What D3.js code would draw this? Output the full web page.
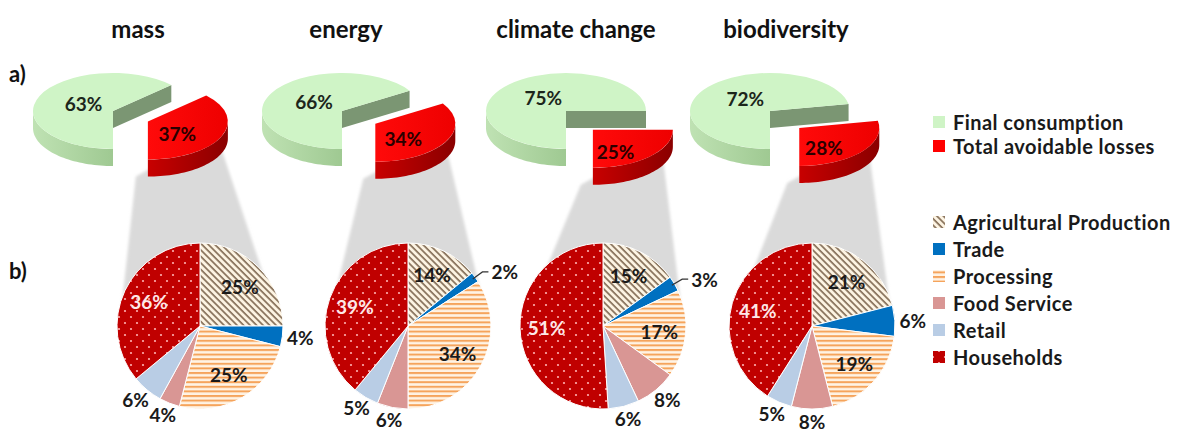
<!DOCTYPE html>
<html>
<head>
<meta charset="utf-8">
<script src="https://cdn.jsdelivr.net/npm/d3@7"></script>
<style>
  body { margin: 0; background: #fff; }
  svg { display: block; font-family: Lato, "Open Sans", sans-serif; }
</style>
</head>
<body>
<svg id="chart" width="1180" height="434"></svg>
<script>
// ---- data -------------------------------------------------------------
const indicators = ["mass", "energy", "climate change", "biodiversity"];
const panelLabels = ["a)", "b)"];

// a) share of final consumption vs. total avoidable losses (%)
const overviewSeries = ["Final consumption", "Total avoidable losses"];
const consumptionShare = [63, 66, 75, 72];
const lossShare = [37, 34, 25, 28];

// b) split of the avoidable losses along the supply chain (%)
const stages = ["Agricultural Production", "Trade", "Processing", "Food Service", "Retail", "Households"];
const massLosses = [25, 4, 25, 4, 6, 36];
const energyLosses = [14, 2, 34, 6, 5, 39];
const climateLosses = [15, 3, 17, 8, 6, 51];
const biodiversityLosses = [21, 6, 19, 8, 5, 41];
const stageLosses = [massLosses, energyLosses, climateLosses, biodiversityLosses];

// ---- layout -----------------------------------------------------------
const layout = {
  titleX: [138, 346, 576, 786], titleY: 38,
  topCx: [113, 342, 566, 770], topCy: 111,
  rx: 80, ry: 38, depth: 17, explode: 38,
  pieCx: [200, 408, 603, 812], pieCy: 326, pieR: 83,
  legendX: 933
};

const svg = d3.select("#chart");
const defs = svg.append("defs");

// fills
const agri = defs.append("pattern").attr("id", "pat-agri")
  .attr("patternUnits", "userSpaceOnUse").attr("width", 4.6).attr("height", 4.6)
  .attr("patternTransform", "rotate(45)");
agri.append("rect").attr("width", 4.6).attr("height", 4.6).attr("fill", "#fdf4e3");
agri.append("rect").attr("width", 4.6).attr("height", 1.7).attr("fill", "#86705a");

const proc = defs.append("pattern").attr("id", "pat-proc")
  .attr("patternUnits", "userSpaceOnUse").attr("width", 6).attr("height", 4.6);
proc.append("rect").attr("width", 6).attr("height", 4.6).attr("fill", "#fff3e4");
proc.append("rect").attr("width", 6).attr("height", 2).attr("fill", "#f5a45c");

const hh = defs.append("pattern").attr("id", "pat-hh")
  .attr("patternUnits", "userSpaceOnUse").attr("width", 12).attr("height", 12);
hh.append("rect").attr("width", 12).attr("height", 12).attr("fill", "#c00000");
hh.append("circle").attr("cx", 3).attr("cy", 3).attr("r", 1.1).attr("fill", "#ffb0b0");
hh.append("circle").attr("cx", 9).attr("cy", 9).attr("r", 1.1).attr("fill", "#ffb0b0");

function hGrad(id, c0, c1) {
  const g = defs.append("linearGradient").attr("id", id)
    .attr("x1", 0).attr("x2", 1).attr("y1", 0).attr("y2", 0);
  g.append("stop").attr("offset", 0).attr("stop-color", c0);
  g.append("stop").attr("offset", 1).attr("stop-color", c1);
}
hGrad("green-wall", "#bfe2b3", "#9fc992");
hGrad("red-wall", "#c80000", "#8a0000");
hGrad("red-top", "#ff0a0a", "#ee0000");

defs.append("filter").attr("id", "soft").attr("x", "-10%").attr("y", "-10%")
  .attr("width", "120%").attr("height", "120%")
  .append("feGaussianBlur").attr("stdDeviation", 1.6);

const overviewStyle = [
  { top: "#cff4c6", wall: "url(#green-wall)", face: "#7b9673" },
  { top: "url(#red-top)", wall: "url(#red-wall)", face: "#9a0000" }
];
const stageFill = d3.scaleOrdinal().domain(stages)
  .range(["url(#pat-agri)", "#0070c0", "url(#pat-proc)", "#d99694", "#b9cde5", "url(#pat-hh)"]);
const legendFill = d3.scaleOrdinal().domain(overviewSeries).range(["#cff4c6", "#ff0000"]);

const line = d3.line();
const TAU = Math.PI * 2;

// one tilted pie slice: radial faces, front wall and top surface
function slice3D(g, cx, cy, a0, a1, style) {
  const { rx, ry, depth } = layout;
  const pt = (a, dz) => [cx + rx * Math.sin(a), cy - ry * Math.cos(a) + dz];
  const arcPts = (s, e, dz) => d3.range(41).map(i => pt(s + (e - s) * i / 40, dz));
  [[a0, Math.sin(a0) < -1e-6], [a1, Math.sin(a1) > 1e-6]].forEach(([a, visible]) => {
    if (!visible) return;
    const r = pt(a, 0);
    g.append("path")
      .attr("d", line([[cx, cy], r, [r[0], r[1] + depth], [cx, cy + depth]]) + "Z")
      .attr("fill", style.face);
  });
  for (let k = -1; k <= 2; k++) {
    const s = Math.max(a0, Math.PI / 2 + TAU * k);
    const e = Math.min(a1, 3 * Math.PI / 2 + TAU * k);
    if (e > s) {
      const pts = arcPts(s, e, 0).concat(arcPts(s, e, depth).reverse());
      g.append("path").attr("d", line(pts) + "Z").attr("fill", style.wall);
    }
  }
  g.append("path")
    .attr("transform", `translate(${cx},${cy}) scale(1,${ry / rx})`)
    .attr("d", d3.arc().innerRadius(0).outerRadius(rx)({ startAngle: a0, endAngle: a1 }))
    .attr("fill", style.top);
}

const overviewPie = d3.pie().sort(null).startAngle(Math.PI).endAngle(3 * Math.PI);
const stagePie = d3.pie().sort(null);
const R = layout.pieR;
const stageArc = d3.arc().innerRadius(0).outerRadius(R);

// connectors go underneath everything
const connectors = svg.append("g").attr("filter", "url(#soft)");
const topLayer = svg.append("g");
const bottomLayer = svg.append("g");

indicators.forEach((name, i) => {
  // title
  svg.append("text").attr("x", layout.titleX[i]).attr("y", layout.titleY)
    .attr("text-anchor", "middle").attr("font-size", 24).attr("font-weight", 700)
    .attr("fill", "#111").text(name);

  // a) exploded 3D pie
  const arcs = overviewPie([consumptionShare[i], lossShare[i]]);
  const cx = layout.topCx[i], cy = layout.topCy;
  const g = topLayer.append("g");
  const lossArc = arcs[1];
  const mid = (lossArc.startAngle + lossArc.endAngle) / 2;
  const ax = cx + layout.explode * Math.sin(mid);
  const ay = cy - layout.explode * 0.7 * Math.cos(mid);

  slice3D(g, cx, cy, arcs[0].startAngle, arcs[0].endAngle, overviewStyle[0]);
  slice3D(g, ax, ay, lossArc.startAngle, lossArc.endAngle, overviewStyle[1]);

  const gMid = (arcs[0].startAngle + arcs[0].endAngle) / 2;
  g.append("text")
    .attr("x", cx + 0.4 * layout.rx * Math.sin(gMid))
    .attr("y", cy - 0.5 * layout.ry * Math.cos(gMid))
    .attr("text-anchor", "middle").attr("dominant-baseline", "central")
    .attr("font-size", 19).attr("font-weight", 700).attr("fill", "#1c261b")
    .text(consumptionShare[i] + "%");
  g.append("text")
    .attr("x", ax + 0.4 * layout.rx * Math.sin(mid))
    .attr("y", ay - 0.8 * layout.ry * Math.cos(mid))
    .attr("text-anchor", "middle").attr("dominant-baseline", "central")
    .attr("font-size", 19).attr("font-weight", 700).attr("fill", "#2a0000")
    .text(lossShare[i] + "%");

  // grey band linking the loss slice to its breakdown
  const pcx = layout.pieCx[i], pcy = layout.pieCy;
  connectors.append("path")
    .attr("d", line([
      [ax - 12, ay + layout.ry + layout.depth],
      [ax + layout.rx * 0.85, ay + layout.depth - 6],
      [pcx + R * 0.97, pcy],
      [pcx - R * 0.97, pcy]
    ]) + "Z")
    .attr("fill", "#dadada");

  // b) breakdown pie
  const pg = bottomLayer.append("g").attr("transform", `translate(${pcx},${pcy})`);
  const sArcs = stagePie(stageLosses[i]);
  pg.selectAll("path").data(sArcs).join("path")
    .attr("d", stageArc)
    .attr("fill", (d, j) => stageFill(stages[j]))
    .attr("stroke", "#fff").attr("stroke-width", 1);

  sArcs.forEach((d, j) => {
    const m = (d.startAngle + d.endAngle) / 2;
    const sx = Math.sin(m), sy = -Math.cos(m);
    const label = d.value + "%";
    if (d.value >= 10) {
      pg.append("text").attr("x", 0.68 * R * sx).attr("y", 0.68 * R * sy)
        .attr("text-anchor", "middle").attr("dominant-baseline", "central")
        .attr("font-size", 19).attr("font-weight", 700)
        .attr("fill", stages[j] === "Households" ? "#fde8e8" : "#1a1a1a")
        .text(label);
    } else if (d.value <= 3) {
      const p1 = [(R - 3) * sx, (R - 3) * sy];
      const p2 = [(R + 9) * sx, (R + 9) * sy];
      pg.append("path").attr("d", line([p1, p2, [p2[0] + 6, p2[1]]]))
        .attr("fill", "none").attr("stroke", "#333").attr("stroke-width", 1.2);
      pg.append("text").attr("x", p2[0] + 9).attr("y", p2[1])
        .attr("dominant-baseline", "central")
        .attr("font-size", 19).attr("font-weight", 700).attr("fill", "#1a1a1a")
        .text(label);
    } else {
      pg.append("text").attr("x", (R + 18) * sx).attr("y", (R + 12) * sy)
        .attr("text-anchor", "middle").attr("dominant-baseline", "central")
        .attr("font-size", 19).attr("font-weight", 700).attr("fill", "#1a1a1a")
        .text(label);
    }
  });
});

// panel letters
svg.selectAll("text.panel").data(panelLabels).join("text").attr("class", "panel")
  .attr("x", 9).attr("y", (d, i) => i === 0 ? 82 : 279)
  .attr("font-size", 22).attr("font-weight", 700).attr("fill", "#111")
  .text(d => d);

// legends
const legend = svg.append("g");
const lx = layout.legendX;
function legendText(y, s) {
  legend.append("text").attr("x", lx + 20).attr("y", y).attr("dominant-baseline", "central")
    .attr("font-size", 20).attr("letter-spacing", 0.45).attr("font-weight", 700)
    .attr("fill", "#1a1a1a").text(s);
}
overviewSeries.forEach((s, i) => {
  const y = 122 + i * 24;
  legend.append("rect").attr("x", lx).attr("y", y - 6).attr("width", 12).attr("height", 12)
    .attr("fill", legendFill(s));
  legendText(y, s);
});
stages.forEach((s, i) => {
  const y = 222 + i * 27;
  legend.append("rect").attr("x", lx).attr("y", y - 6).attr("width", 12).attr("height", 12)
    .attr("fill", stageFill(s));
  legendText(y, s);
});
</script>
</body>
</html>
